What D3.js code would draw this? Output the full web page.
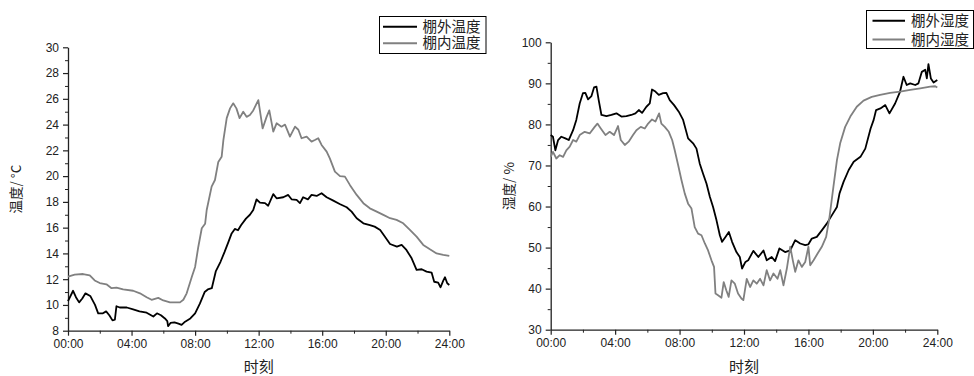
<!DOCTYPE html>
<html>
<head>
<meta charset="utf-8">
<script src="https://cdn.jsdelivr.net/npm/d3@7/dist/d3.min.js"></script>
<style>
  html, body { margin: 0; padding: 0; background: #fff; }
  svg { display: block; }
  text { font-family: "Liberation Sans", Arial, "Noto Sans CJK SC", sans-serif; fill: #222; }
  .cjk { font-family: "Noto Sans CJK SC", "Liberation Sans", sans-serif; }
  .leg { font-family: "Liberation Sans", "Noto Sans CJK SC", sans-serif; }
</style>
</head>
<body>
<svg id="chart" width="974" height="376"></svg>
<script>
// Greenhouse monitoring over one day: temperature (left) and relative humidity (right).
// Each series is a list of [hour, value] readings.

const xTicks = [0, 4, 8, 12, 16, 20, 24];
const tempTicks = [8, 10, 12, 14, 16, 18, 20, 22, 24, 26, 28, 30];
const humTicks = [30, 40, 50, 60, 70, 80, 90, 100];
const tempLegend = ["棚外温度", "棚内温度"];
const humLegend = ["棚外湿度", "棚内湿度"];

const outTemp = [
  [0, 10.3], [0.32, 11.1], [0.5, 10.6], [0.7, 10.2], [0.9, 10.5], [1.1, 10.9], [1.4, 10.7],
  [1.7, 10.0], [1.9, 9.35], [2.2, 9.35], [2.4, 9.5], [2.6, 9.2], [2.8, 8.8], [2.95, 8.85],
  [3.05, 9.9], [3.26, 9.8], [3.7, 9.8], [4.1, 9.65], [4.5, 9.5], [4.95, 9.4], [5.37, 9.1],
  [5.6, 9.35], [5.85, 9.2], [6.1, 8.95], [6.25, 8.75], [6.3, 8.35], [6.45, 8.6], [6.7, 8.65],
  [6.95, 8.55], [7.15, 8.45], [7.37, 8.7], [7.7, 8.95], [8.0, 9.35], [8.3, 10.1], [8.6, 11.0],
  [8.8, 11.2], [9.05, 11.3], [9.3, 12.6], [9.6, 13.35], [9.85, 14.1], [10.1, 14.9], [10.3, 15.55],
  [10.5, 15.9], [10.7, 15.8], [10.9, 16.2], [11.2, 16.7], [11.45, 17.0], [11.66, 17.37],
  [11.87, 18.2], [12.08, 17.94], [12.4, 17.9], [12.6, 17.7], [12.92, 18.6], [13.13, 18.28],
  [13.55, 18.36], [13.86, 18.54], [14.07, 18.2], [14.39, 18.15], [14.6, 17.9], [14.8, 18.36],
  [15.1, 18.2], [15.33, 18.54], [15.65, 18.46], [15.96, 18.67], [16.28, 18.36], [16.7, 18.1],
  [17.1, 17.84], [17.54, 17.58], [17.85, 17.24], [18.17, 16.73], [18.59, 16.34], [19.0, 16.2],
  [19.3, 16.08], [19.65, 15.82], [19.95, 15.3], [20.27, 14.73], [20.7, 14.53], [21.0, 14.66],
  [21.3, 14.27], [21.63, 13.62], [21.94, 12.72], [22.26, 12.77], [22.57, 12.59], [22.89, 12.5],
  [23.05, 11.8], [23.3, 11.73], [23.45, 11.37], [23.62, 11.89], [23.73, 12.15], [23.87, 11.68],
  [24.0, 11.55]
];

const inTemp = [
  [0, 12.2], [0.42, 12.35], [0.95, 12.4], [1.37, 12.3], [1.68, 11.9], [2.0, 11.7], [2.42, 11.6],
  [2.74, 11.3], [3.05, 11.35], [3.47, 11.2], [4.1, 11.1], [4.53, 10.9], [4.95, 10.6], [5.26, 10.4],
  [5.68, 10.55], [6.0, 10.35], [6.42, 10.2], [7.05, 10.2], [7.26, 10.4], [7.47, 10.9], [7.8, 12.2],
  [8.0, 12.95], [8.2, 14.5], [8.42, 15.95], [8.63, 16.3], [8.73, 17.37], [9.04, 19.18], [9.25, 19.7],
  [9.46, 21.1], [9.67, 21.5], [9.78, 22.8], [9.99, 24.5], [10.2, 25.26], [10.4, 25.65], [10.6, 25.26],
  [10.8, 24.5], [11.03, 25.0], [11.24, 24.6], [11.45, 24.75], [11.66, 25.1], [11.98, 25.9],
  [12.25, 23.7], [12.5, 24.6], [12.67, 25.1], [12.92, 23.45], [13.13, 24.1], [13.44, 23.84],
  [13.66, 24.0], [13.97, 23.07], [14.29, 23.84], [14.5, 23.6], [14.7, 22.94], [15.02, 23.07],
  [15.33, 22.68], [15.54, 22.8], [15.75, 22.94], [15.96, 22.42], [16.28, 21.9], [16.48, 21.38],
  [16.8, 20.35], [17.12, 20.0], [17.43, 19.96], [17.75, 19.3], [18.17, 18.54], [18.59, 17.9],
  [19.0, 17.5], [19.43, 17.24], [19.85, 16.99], [20.27, 16.73], [20.68, 16.6], [21.1, 16.34],
  [21.52, 15.82], [21.94, 15.3], [22.36, 14.66], [22.78, 14.32], [23.2, 14.0], [23.62, 13.88],
  [24.0, 13.8]
];

const outHum = [
  [0, 77.4], [0.14, 77.0], [0.29, 73.7], [0.46, 76.2], [0.66, 77.0], [0.91, 76.6], [1.12, 76.2],
  [1.39, 78.6], [1.59, 81.1], [1.8, 85.1], [2.0, 87.6], [2.15, 87.7], [2.32, 86.1], [2.53, 86.9],
  [2.69, 89.0], [2.84, 89.2], [2.98, 85.9], [3.15, 82.3], [3.46, 82.0], [3.77, 82.3], [4.08, 82.7],
  [4.39, 81.9], [4.7, 82.0], [5.0, 82.3], [5.26, 82.7], [5.47, 83.5], [5.67, 82.8], [5.94, 84.3],
  [6.15, 85.1], [6.29, 88.5], [6.5, 88.0], [6.71, 87.2], [6.98, 87.6], [7.18, 87.7], [7.39, 85.9],
  [7.66, 84.7], [7.95, 83.1], [8.22, 81.1], [8.53, 76.6], [8.84, 75.4], [9.05, 74.1], [9.25, 70.5],
  [9.46, 68.0], [9.67, 65.6], [9.88, 62.4], [10.08, 59.9], [10.29, 56.7], [10.5, 53.0],
  [10.64, 51.4], [10.85, 52.6], [11.06, 53.8], [11.26, 51.4], [11.53, 48.9], [11.74, 47.7],
  [11.88, 44.9], [12.09, 46.5], [12.26, 46.9], [12.58, 49.2], [12.89, 47.7], [13.21, 49.3],
  [13.41, 46.9], [13.72, 47.7], [13.93, 46.7], [14.2, 49.8], [14.55, 48.9], [14.87, 49.3],
  [15.18, 51.8], [15.49, 51.0], [15.8, 50.6], [16.0, 50.8], [16.21, 52.2], [16.52, 52.6],
  [16.83, 54.2], [17.15, 55.9], [17.46, 57.9], [17.77, 59.9], [17.93, 63.2], [18.18, 66.0],
  [18.5, 68.9], [18.81, 70.9], [19.23, 72.1], [19.53, 74.1], [19.86, 79.0], [20.05, 81.1],
  [20.2, 83.5], [20.47, 83.9], [20.77, 84.7], [21.03, 82.7], [21.38, 85.1], [21.69, 88.0],
  [21.9, 91.6], [22.1, 89.6], [22.32, 90.0], [22.63, 89.6], [22.83, 90.0], [23.04, 92.8],
  [23.25, 93.3], [23.35, 91.2], [23.45, 94.7], [23.6, 91.2], [23.77, 90.2], [24.0, 90.8]
];

const inHum = [
  [0, 72.1], [0.14, 73.3], [0.35, 71.7], [0.56, 72.5], [0.77, 72.1], [0.97, 73.7], [1.18, 74.6],
  [1.39, 76.2], [1.59, 75.8], [1.8, 77.4], [2.11, 78.2], [2.42, 77.8], [2.73, 79.4], [2.9, 80.2],
  [3.11, 79.0], [3.4, 77.4], [3.66, 78.2], [3.93, 77.4], [4.18, 79.6], [4.35, 76.2], [4.6, 75.0],
  [4.84, 75.8], [5.11, 77.4], [5.32, 78.6], [5.59, 79.4], [5.84, 79.0], [6.05, 80.2], [6.29, 81.2],
  [6.5, 80.7], [6.73, 82.7], [6.87, 80.2], [7.08, 79.4], [7.33, 78.2], [7.54, 76.2], [7.7, 73.7],
  [7.91, 70.1], [8.12, 66.4], [8.32, 63.2], [8.53, 60.7], [8.74, 59.5], [8.94, 55.0], [9.15, 53.4],
  [9.36, 53.0], [9.57, 51.0], [9.77, 49.3], [9.98, 46.9], [10.14, 45.3], [10.23, 38.8],
  [10.39, 38.4], [10.6, 37.8], [10.74, 41.6], [10.9, 39.6], [11.05, 38.0], [11.22, 42.0],
  [11.43, 41.2], [11.63, 38.8], [11.84, 37.6], [11.96, 37.2], [12.17, 42.4], [12.38, 40.4],
  [12.58, 42.0], [12.79, 41.2], [13.0, 42.4], [13.21, 40.8], [13.41, 44.5], [13.62, 42.0],
  [13.83, 43.7], [14.08, 42.4], [14.25, 44.5], [14.45, 40.8], [14.66, 44.9], [14.87, 50.2],
  [15.03, 46.9], [15.18, 44.1], [15.38, 46.9], [15.59, 45.3], [15.8, 46.5], [16.0, 50.2],
  [16.11, 45.7], [16.32, 46.9], [16.56, 48.5], [16.83, 50.2], [17.1, 52.6], [17.31, 57.5],
  [17.55, 64.8], [17.77, 71.3], [17.97, 75.4], [18.28, 79.4], [18.6, 81.9], [19.0, 84.3],
  [19.42, 85.8], [19.93, 86.7], [20.45, 87.2], [21.07, 87.7], [21.69, 88.0], [22.32, 88.4],
  [22.94, 88.8], [23.56, 89.2], [23.87, 89.3], [24.0, 89.0]
];

const colors = ["#000000", "#808080"];
const svg = d3.select("#chart");

function hourLabel(h) { return String(h).padStart(2, "0") + ":00"; }

function panel(opt) {
  const x = d3.scaleLinear().domain([0, 24]).range([opt.left, opt.right]);
  const y = d3.scaleLinear().domain(opt.yDomain).range([opt.bottom, opt.top]);
  const g = svg.append("g");

  // minor ticks
  g.append("g")
    .attr("transform", `translate(0,${opt.bottom})`)
    .call(d3.axisBottom(x).tickValues([2, 6, 10, 14, 18, 22]).tickSize(3).tickFormat(""))
    .call(a => a.select(".domain").remove())
    .selectAll("line").attr("stroke", "#222");
  g.append("g")
    .attr("transform", `translate(${opt.left},0)`)
    .call(d3.axisLeft(y).tickValues(opt.yMinor).tickSize(3).tickFormat(""))
    .call(a => a.select(".domain").remove())
    .selectAll("line").attr("stroke", "#222");

  // major axes
  const xa = g.append("g")
    .attr("transform", `translate(0,${opt.bottom})`)
    .call(d3.axisBottom(x).tickValues(xTicks).tickSize(5).tickPadding(4).tickFormat(hourLabel).tickSizeOuter(0));
  const ya = g.append("g")
    .attr("transform", `translate(${opt.left},0)`)
    .call(d3.axisLeft(y).tickValues(opt.yTicks).tickSize(5).tickPadding(4).tickSizeOuter(0));
  [xa, ya].forEach(a => {
    a.selectAll("text").attr("font-size", 12).attr("font-family", "Liberation Sans, Arial, sans-serif").attr("fill", "#222");
    a.selectAll("line").attr("stroke", "#222").attr("stroke-width", 1.2);
    a.select(".domain").attr("stroke", "#222").attr("stroke-width", 1.3);
  });

  // series lines, outside first, inside on top
  const line = d3.line().x(d => x(d[0])).y(d => y(d[1]));
  opt.series.forEach((s, i) => {
    g.append("path").datum(s)
      .attr("fill", "none")
      .attr("stroke", colors[i])
      .attr("stroke-width", 1.8)
      .attr("stroke-linejoin", "round")
      .attr("d", line);
  });

  // axis titles
  g.append("text").attr("class", "cjk")
    .attr("x", (opt.left + opt.right) / 2).attr("y", 368)
    .attr("text-anchor", "middle").attr("dominant-baseline", "middle")
    .attr("font-size", 15).text("时刻");
  g.append("text").attr("class", "cjk")
    .attr("transform", `translate(${opt.titleX},${(opt.top + opt.bottom) / 2}) rotate(-90)`)
    .attr("text-anchor", "middle").attr("dominant-baseline", "middle")
    .attr("font-size", 13.5).text(opt.yTitle);

  // legend box with line samples
  const lg = g.append("g");
  lg.append("rect")
    .attr("x", opt.legend.x0).attr("y", opt.legend.y0)
    .attr("width", opt.legend.x1 - opt.legend.x0).attr("height", opt.legend.y1 - opt.legend.y0)
    .attr("fill", "#fff").attr("stroke", "#000").attr("stroke-width", 1);
  opt.legendLabels.forEach((lab, i) => {
    const ly = opt.legend.rows[i];
    lg.append("line")
      .attr("x1", opt.legend.lx0).attr("x2", opt.legend.lx1)
      .attr("y1", ly).attr("y2", ly)
      .attr("stroke", colors[i]).attr("stroke-width", 2);
    lg.append("text").attr("class", "leg")
      .attr("x", opt.legend.tx).attr("y", ly + 5)
      .attr("font-size", 14.5)
      .text(lab);
  });
}

panel({
  left: 68, right: 449.3, top: 47.3, bottom: 330.7,
  yDomain: [8, 30], yTicks: tempTicks,
  yMinor: d3.range(9, 30, 2),
  series: [outTemp, inTemp],
  yTitle: "温度/ °C", titleX: 17,
  legendLabels: tempLegend,
  legend: { x0: 379.5, x1: 486, y0: 16.5, y1: 53.5, lx0: 383, lx1: 417, tx: 422.5, rows: [26.7, 43.3] }
});

panel({
  left: 550.7, right: 937.3, top: 42.3, bottom: 329.7,
  yDomain: [30, 100], yTicks: humTicks,
  yMinor: d3.range(35, 100, 10),
  series: [outHum, inHum],
  yTitle: "湿度/ %", titleX: 510,
  legendLabels: humLegend,
  legend: { x0: 866.5, x1: 973.5, y0: 10.5, y1: 48.5, lx0: 872.5, lx1: 905, tx: 911, rows: [20.8, 39.5] }
});
</script>
</body>
</html>
